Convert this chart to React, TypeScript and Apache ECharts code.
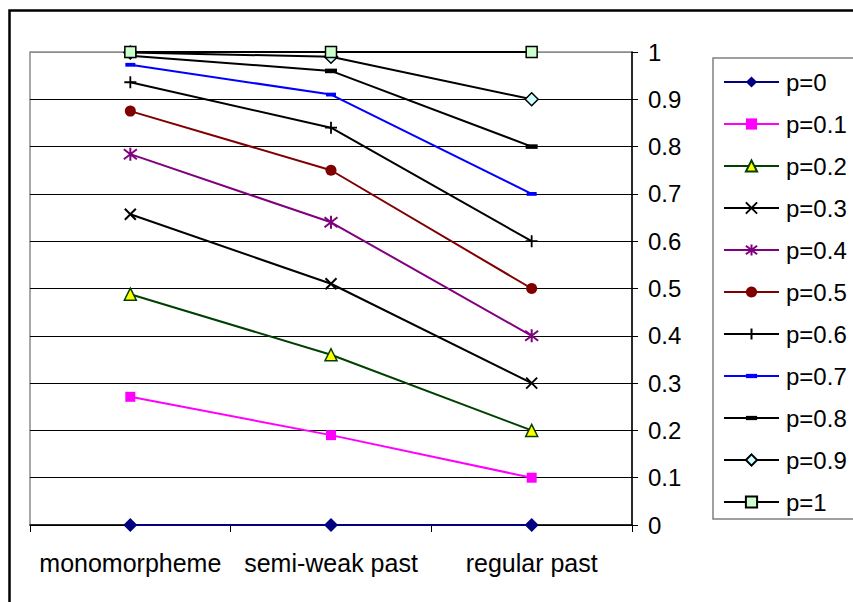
import React, { useEffect, useRef } from "react";
import * as echarts from "echarts";

const categories = ["monomorpheme", "semi-weak past", "regular past"];
const seriesNames = ["p=0", "p=0.1", "p=0.2", "p=0.3", "p=0.4", "p=0.5", "p=0.6", "p=0.7", "p=0.8", "p=0.9", "p=1"];
const monomorpheme = [0, 0.271, 0.488, 0.657, 0.784, 0.875, 0.936, 0.973, 0.992, 0.999, 1];
const semiWeakPast = [0, 0.19, 0.36, 0.51, 0.64, 0.75, 0.84, 0.91, 0.96, 0.99, 1];
const regularPast = [0, 0.1, 0.2, 0.3, 0.4, 0.5, 0.6, 0.7, 0.8, 0.9, 1];
const yTicks = [0, 0.1, 0.2, 0.3, 0.4, 0.5, 0.6, 0.7, 0.8, 0.9, 1];

const FONT = "'Liberation Sans', Arial, sans-serif";

const DASH = "path://M0 0L0 0M0 3.1H10V6.9H0ZM10 10L10 10";

type Style = {
  line: string;
  symbol: string;
  size: number;
  fill: string;
  border?: string;
  borderWidth?: number;
};

const styles: Style[] = [
  { line: "#000080", symbol: "diamond", size: 14, fill: "#000080" },
  { line: "#FF00FF", symbol: "rect", size: 10, fill: "#FF00FF" },
  { line: "#004000", symbol: "triangle", size: 12, fill: "#FFFF00", border: "#004000", borderWidth: 1.5 },
  { line: "#000000", symbol: "path://M0 0L10 10M10 0L0 10", size: 11, fill: "none", border: "#000000", borderWidth: 2 },
  { line: "#800080", symbol: "path://M0 0L10 10M10 0L0 10M5 -1.5V11.5", size: 13, fill: "none", border: "#800080", borderWidth: 2 },
  { line: "#800000", symbol: "circle", size: 11, fill: "#800000" },
  { line: "#000000", symbol: "path://M5 0V10M0 5H10", size: 12, fill: "none", border: "#000000", borderWidth: 1.8 },
  { line: "#0000FF", symbol: DASH, size: 10, fill: "#0000FF" },
  { line: "#000000", symbol: DASH, size: 12, fill: "#000000" },
  { line: "#000000", symbol: "diamond", size: 13, fill: "#CCFFFF", border: "#000000", borderWidth: 1.5 },
  { line: "#000000", symbol: "rect", size: 11, fill: "#CCFFCC", border: "#000000", borderWidth: 1.5 },
];

export default function App() {
  const ref = useRef<HTMLDivElement>(null);

  useEffect(() => {
    if (!ref.current) return;
    const chart = echarts.init(ref.current, null, { renderer: "svg" });

    const series = seriesNames.map((name, i) => {
      const s = styles[i];
      return {
        name,
        type: "line",
        data: [monomorpheme[i], semiWeakPast[i], regularPast[i]],
        symbol: s.symbol,
        symbolSize: s.size,
        showAllSymbol: true,
        lineStyle: { color: s.line, width: 2 },
        itemStyle: {
          color: s.fill === "none" ? "rgba(0,0,0,0)" : s.fill,
          borderColor: s.border || s.fill,
          borderWidth: s.borderWidth ?? 0,
          opacity: 1,
        },
        emphasis: { disabled: true },
        z: 2 + i,
      };
    });

    const splitColors = yTicks.map((v) => (v === 1 ? "#8c8c8c" : "#000000"));

    chart.setOption({
      animation: false,
      backgroundColor: "#ffffff",
      textStyle: { fontFamily: FONT },
      graphic: [
        {
          type: "rect",
          shape: { x: 9.5, y: 10.5, width: 1000, height: 1000 },
          style: { fill: "none", stroke: "#000000", lineWidth: 2.5 },
          z: 100,
        },
      ],
      grid: {
        left: 30,
        top: 52,
        width: 602,
        height: 473,
        show: true,
        borderColor: "#8c8c8c",
        borderWidth: 1.5,
        backgroundColor: "transparent",
      },
      legend: {
        orient: "vertical",
        left: 713,
        top: 58,
        padding: [12, 10, 5, 10],
        itemWidth: 55,
        itemHeight: 14,
        itemGap: 18,
        borderColor: "#808080",
        borderWidth: 1.5,
        backgroundColor: "#ffffff",
        selectedMode: false,
        textStyle: { fontSize: 24, color: "#000", fontFamily: FONT, lineHeight: 24, padding: [0, 0, 0, 2] },
        data: seriesNames,
      },
      xAxis: {
        type: "category",
        data: categories,
        boundaryGap: true,
        axisLine: { show: true, lineStyle: { color: "#000", width: 1.5 } },
        axisTick: { show: true, length: 7, lineStyle: { color: "#000", width: 1 } },
        axisLabel: { fontSize: 25, color: "#000", margin: 25, fontFamily: FONT, interval: 0 },
        splitLine: { show: false },
        z: 1,
      },
      yAxis: {
        type: "value",
        position: "right",
        min: 0,
        max: 1,
        interval: 0.1,
        axisLine: { show: true, lineStyle: { color: "#000", width: 1.5 } },
        axisTick: { show: true, length: 6, lineStyle: { color: "#000", width: 1 } },
        axisLabel: {
          fontSize: 24,
          color: "#000",
          margin: 16,
          fontFamily: FONT,
          formatter: (v: number) => String(Math.round(v * 10) / 10),
        },
        splitLine: { show: true, lineStyle: { color: splitColors, width: 1 } },
      },
      series,
    });

    return () => chart.dispose();
  }, []);

  return (
    <div
      ref={ref}
      style={{ position: "absolute", left: 0, top: 0, width: 853, height: 602, background: "#fff" }}
    />
  );
}
